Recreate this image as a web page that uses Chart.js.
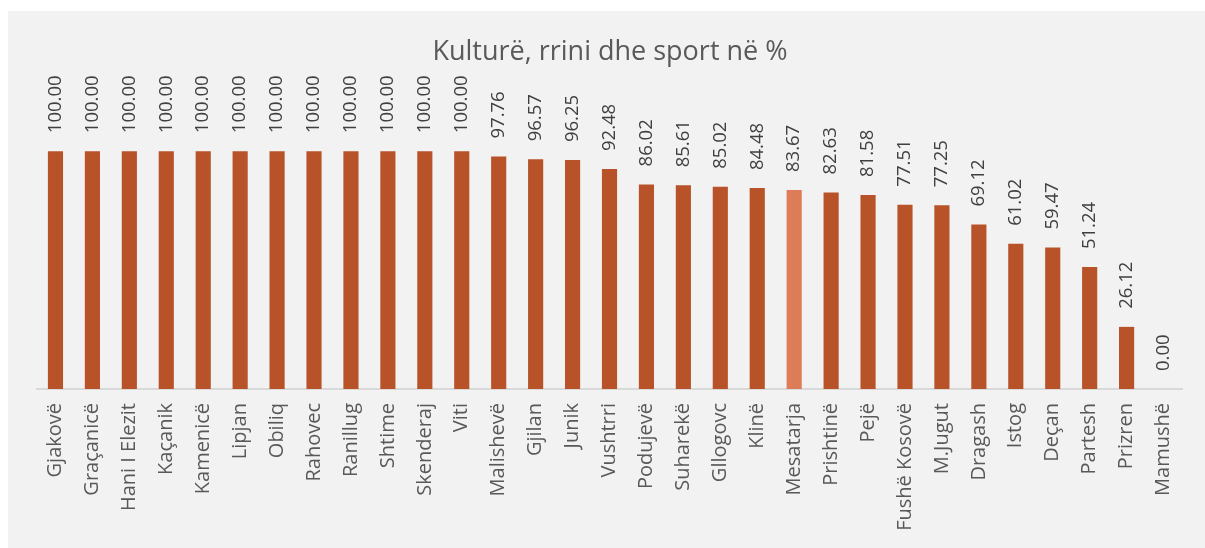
<!DOCTYPE html>
<html>
<head>
<meta charset="utf-8">
<script src="https://cdn.jsdelivr.net/npm/chart.js@4/dist/chart.umd.min.js"></script>
<style>
  body { margin: 0; background: #ffffff; width: 1205px; height: 548px; overflow: hidden; }
  #box { position: absolute; left: 8px; top: 11px; width: 1197px; height: 537px; background: #F2F2F2; }
</style>
</head>
<body>
<div id="box"><canvas id="chart" width="1197" height="537"></canvas></div>
<script>
// Komunat dhe perqindjet
var komunat = ["Gjakovë", "Graçanicë", "Hani I Elezit", "Kaçanik", "Kamenicë", "Lipjan", "Obiliq",
    "Rahovec", "Ranillug", "Shtime", "Skenderaj", "Viti", "Malishevë", "Gjilan", "Junik", "Vushtrri",
    "Podujevë", "Suharekë", "Gllogovc", "Klinë", "Mesatarja", "Prishtinë", "Pejë", "Fushë Kosovë",
    "M.Jugut", "Dragash", "Istog", "Deçan", "Partesh", "Prizren", "Mamushë"];
var vlerat = [100, 100, 100, 100, 100, 100, 100, 100, 100, 100, 100, 100, 97.76, 96.57, 96.25, 92.48,
    86.02, 85.61, 85.02, 84.48, 83.67, 82.63, 81.58, 77.51, 77.25, 69.12, 61.02, 59.47, 51.24, 26.12, 0.00];
var titulli = "Kulturë, rrini dhe sport në %";

var fontFamily = "'Open Sans', sans-serif";

// Mesatarja gets the lighter colour
var ngjyrat = komunat.map(k => k == "Mesatarja" ? "#DD7D58" : "#B85229");

// Draw title and the value labels on top of bars
var labelsPlugin = {
    id: 'labelsPlugin',
    afterDatasetsDraw: function(chart) {
        var ctx = chart.ctx;
        ctx.save();
        ctx.fillStyle = "#595959";
        ctx.font = "27px " + fontFamily;
        ctx.textAlign = "center";
        ctx.textBaseline = "middle";
        ctx.fillText(titulli, 602, 41);

        var meta = chart.getDatasetMeta(0);
        ctx.fillStyle = "#404040";
        ctx.font = "18.5px " + fontFamily;
        meta.data.forEach((bar, i) => {
            ctx.save();
            ctx.translate(bar.x, bar.y - 18);
            ctx.rotate(-Math.PI / 2);
            ctx.textAlign = "left";
            ctx.textBaseline = "middle";
            ctx.fillText(vlerat[i].toFixed(2), 0, 0);
            ctx.restore();
        });
        ctx.restore();
    }
};

var chart = new Chart(document.getElementById('chart').getContext('2d'), {
    type: 'bar',
    data: {
        labels: komunat,
        datasets: [{
            data: vlerat,
            backgroundColor: ngjyrat,
            borderWidth: 0,
            categoryPercentage: 0.41,
            barPercentage: 1.0
        }]
    },
    options: {
        responsive: false,
        animation: false,
        layout: { padding: { left: 29, right: 23, top: 45, bottom: 0 } },
        plugins: {
            legend: { display: false },
            tooltip: { enabled: false },
            title: { display: false }
        },
        scales: {
            x: {
                grid: { display: false, drawTicks: false },
                border: { display: true, color: "#D9D9D9", width: 2 },
                ticks: {
                    minRotation: 90,
                    maxRotation: 90,
                    autoSkip: false,
                    padding: 14,
                    color: "#595959",
                    font: { family: fontFamily, size: 20 }
                },
                afterFit: function(scale) { scale.height = 159; }
            },
            y: {
                display: false,
                min: 0,
                max: 140
            }
        }
    },
    plugins: [labelsPlugin]
});
</script>
</body>
</html>
